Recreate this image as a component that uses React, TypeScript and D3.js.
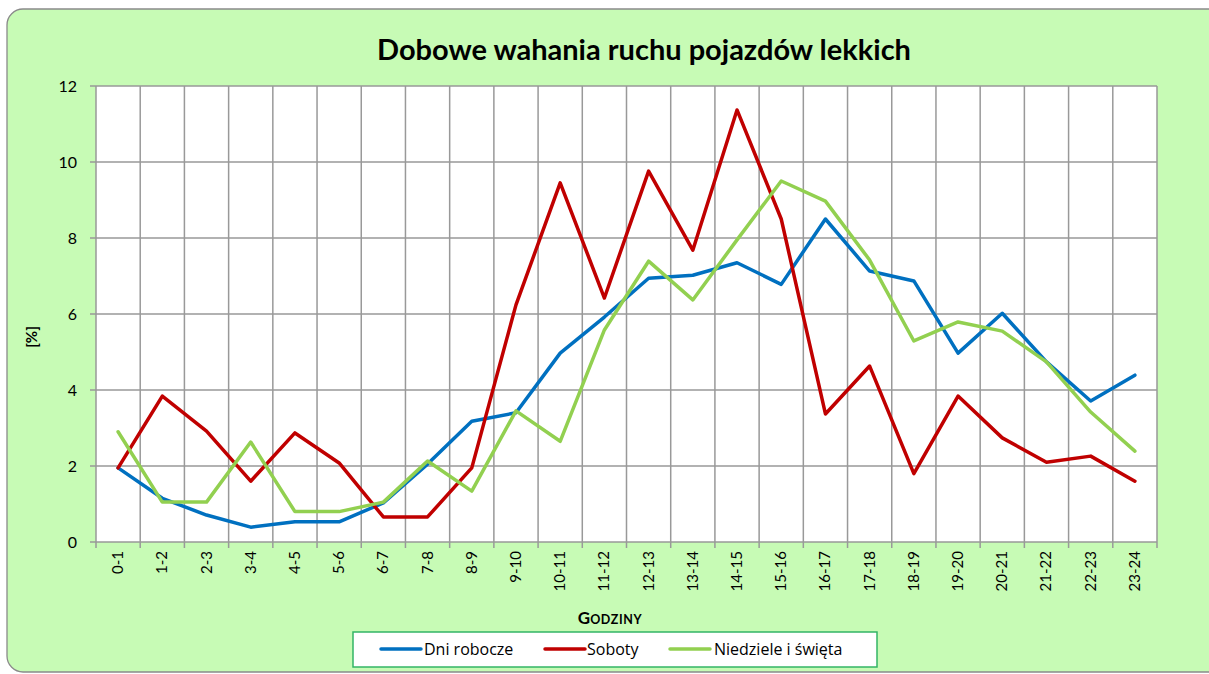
import React from "react";
import * as d3 from "d3";

const categories = ["0-1","1-2","2-3","3-4","4-5","5-6","6-7","7-8","8-9","9-10","10-11","11-12","12-13","13-14","14-15","15-16","16-17","17-18","18-19","19-20","20-21","21-22","22-23","23-24"];
const dniRobocze = [1.95,1.15,0.71,0.39,0.53,0.53,1.03,2.05,3.18,3.4,4.97,5.92,6.94,7.02,7.35,6.78,8.5,7.13,6.87,4.97,6.02,4.74,3.71,4.39];
const soboty = [1.95,3.84,2.92,1.6,2.87,2.08,0.66,0.66,1.95,6.24,9.45,6.42,9.76,7.68,11.37,8.5,3.37,4.63,1.8,3.84,2.74,2.1,2.26,1.6];
const niedziele = [2.9,1.05,1.05,2.63,0.8,0.8,1.05,2.13,1.34,3.45,2.65,5.58,7.39,6.37,7.95,9.5,8.97,7.42,5.29,5.79,5.55,4.74,3.42,2.39];
const yTicks = [0,2,4,6,8,10,12];
const seriesNames = ["Dni robocze","Soboty","Niedziele i święta"];
const seriesColors = ["#0070C0","#C00000","#92D050"];

export default function App() {
  const W = 1209, H = 674;
  const left = 96, right = 1157, top = 86, bottom = 542;
  const x = d3.scaleBand<string>().domain(categories).range([left, right]);
  const y = d3.scaleLinear().domain([0, 12]).range([bottom, top]);
  const line = d3.line<number>()
    .x((_, i) => (x(categories[i]) as number) + x.bandwidth() / 2)
    .y(d => y(d));
  const data = [dniRobocze, soboty, niedziele];
  const font = "Lato, 'Open Sans', sans-serif";
  const gridColor = "#999999";
  const legendLineX = [381, 545, 670];
  const legendTextX = [424, 587, 714];

  return (
    <svg width={W} height={H} style={{ position: "absolute", left: 0, top: 0 }} fontFamily={font}>
      <rect x={7} y={9} width={1230} height={663} rx={16} ry={16} fill="#C7FBB5" stroke="#8a8a8a" strokeWidth={1.3} />
      <rect x={left} y={top} width={right - left} height={bottom - top} fill="#ffffff" />
      {yTicks.map(t => (
        <line key={"h" + t} x1={left - 6} x2={right} y1={y(t)} y2={y(t)} stroke={gridColor} strokeWidth={1.5} />
      ))}
      {categories.map((c, i) => (
        <line key={"v" + i} x1={x(c) as number} x2={x(c) as number} y1={top} y2={bottom + 6} stroke={gridColor} strokeWidth={1.5} />
      ))}
      <line x1={right} x2={right} y1={top} y2={bottom + 6} stroke={gridColor} strokeWidth={1.5} />
      {yTicks.map(t => (
        <text key={"yl" + t} x={77} y={y(t)} dy="0.35em" textAnchor="end" fontSize={16} fill="#000">{t}</text>
      ))}
      {categories.map(c => {
        const cx = (x(c) as number) + x.bandwidth() / 2;
        return (
          <text key={"xl" + c} transform={`translate(${cx + 5},${551}) rotate(-90)`} textAnchor="end" fontSize={15} fill="#000">{c}</text>
        );
      })}
      {data.map((s, k) => (
        <path key={"s" + k} d={line(s) || ""} fill="none" stroke={seriesColors[k]} strokeWidth={3.5} strokeLinejoin="round" strokeLinecap="round" />
      ))}
      <text x={644} y={60} textAnchor="middle" fontSize={29} fontWeight="bold" fill="#000">Dobowe wahania ruchu pojazdów lekkich</text>
      <text transform={`translate(37,337) rotate(-90)`} textAnchor="middle" fontSize={15} fontWeight="bold" fill="#000">[%]</text>
      <text x={610} y={624} textAnchor="middle" fontWeight="bold" fill="#000">
        <tspan fontSize={17}>G</tspan><tspan fontSize={12.5} letterSpacing={0.6}>ODZINY</tspan>
      </text>
      <rect x={353} y={632} width={524} height={35} fill="#ffffff" stroke="#33B565" strokeWidth={1.5} />
      {seriesNames.map((n, k) => (
        <g key={"lg" + k}>
          <line x1={legendLineX[k]} x2={legendLineX[k] + 40} y1={649} y2={649} stroke={seriesColors[k]} strokeWidth={3.5} strokeLinecap="round" />
          <text x={legendTextX[k]} y={649} dy="0.35em" fontSize={16} fontFamily="'Open Sans', sans-serif" fill="#000">{n}</text>
        </g>
      ))}
    </svg>
  );
}
